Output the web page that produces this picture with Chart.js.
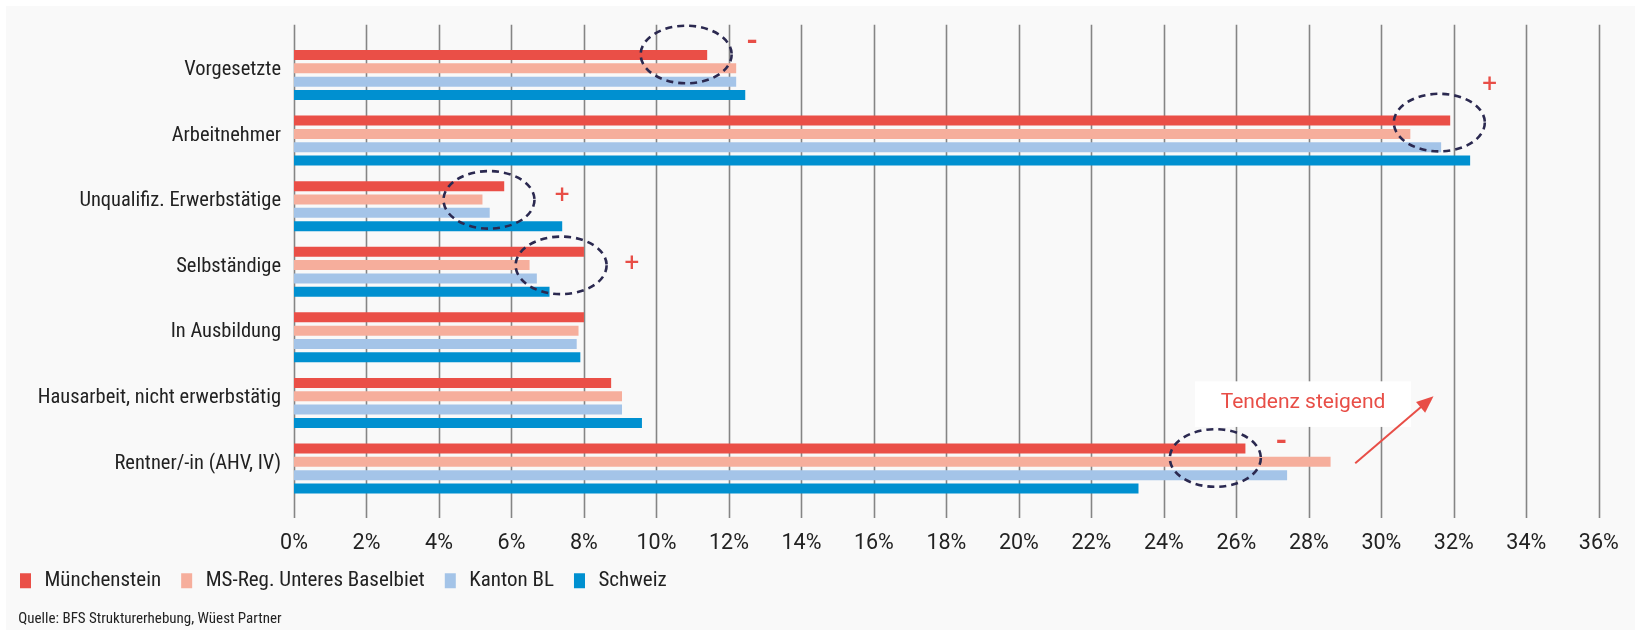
<!DOCTYPE html>
<html>
<head>
<meta charset="utf-8">
<script src="https://cdn.jsdelivr.net/npm/chart.js@4.4.1/dist/chart.umd.min.js"></script>
<style>
html,body{margin:0;padding:0;background:#ffffff;}
#wrap{width:1635px;height:630px;position:relative;}
</style>
</head>
<body>
<div id="wrap"><canvas id="c" width="1635" height="630"></canvas></div>
<script>
// ---- data ----
const categories = ['Vorgesetzte', 'Arbeitnehmer', 'Unqualifiz. Erwerbstätige', 'Selbständige', 'In Ausbildung', 'Hausarbeit, nicht erwerbstätig', 'Rentner/-in (AHV, IV)'];
const seriesNames = ['Münchenstein', 'MS-Reg. Unteres Baselbiet', 'Kanton BL', 'Schweiz'];
const muenchenstein = [11.4, 31.9, 5.8, 8.0, 8.0, 8.75, 26.25];
const msRegion = [12.2, 30.8, 5.2, 6.5, 7.85, 9.05, 28.6];
const kantonBL = [12.2, 31.65, 5.4, 6.7, 7.8, 9.05, 27.4];
const schweiz = [12.45, 32.45, 7.4, 7.05, 7.9, 9.6, 23.3];
const xTickValues = [0, 2, 4, 6, 8, 10, 12, 14, 16, 18, 20, 22, 24, 26, 28, 30, 32, 34, 36];
const sourceText = 'Quelle: BFS Strukturerhebung, Wüest Partner';
const trendText = 'Tendenz steigend';
// annotations (category index + value on x axis)
const circleMarks = [
  {cat: 0, x: 10.82, dy: -20.5},
  {cat: 1, x: 31.60, dy: -18},
  {cat: 2, x: 5.38, dy: -6.3},
  {cat: 3, x: 7.37, dy: -6.4},
  {cat: 6, x: 25.42, dy: -10.5}
];
const signMarks = [
  {cat: 0, x: 12.64, dy: -33.3, t: '-'},
  {cat: 1, x: 32.99, dy: -56, t: '+'},
  {cat: 2, x: 7.40, dy: -10.3, t: '+'},
  {cat: 3, x: 9.32, dy: -8.4, t: '+'},
  {cat: 6, x: 27.24, dy: -26.8, t: '-'}
];

const colors = ['#ea4f47', '#f6ae9c', '#a4c4e8', '#0090d0'];
const COND = '"Roboto Condensed", "Liberation Sans", Arial, sans-serif';
const REG = 'Roboto, "Liberation Sans", Arial, sans-serif';
const BG = '#f9f9f9';

const bgPlugin = {
  id: 'bg',
  beforeDraw(chart) {
    const ctx = chart.ctx;
    ctx.save();
    ctx.fillStyle = '#ffffff';
    ctx.fillRect(0, 0, chart.width, chart.height);
    ctx.fillStyle = BG;
    ctx.fillRect(6, 6, chart.width - 6, chart.height - 6);
    ctx.restore();
  }
};

const gridPlugin = {
  id: 'vgrid',
  beforeDatasetsDraw(chart) {
    const ctx = chart.ctx, xS = chart.scales.x, a = chart.chartArea;
    ctx.save();
    ctx.strokeStyle = '#858585';
    ctx.lineWidth = 1.6;
    xS.ticks.forEach(t => {
      const px = Math.round(xS.getPixelForValue(t.value)) + 0.5;
      ctx.beginPath();
      ctx.moveTo(px, a.top - 17.5);
      ctx.lineTo(px, a.bottom + 16.7);
      ctx.stroke();
    });
    ctx.restore();
  }
};

const annoPlugin = {
  id: 'anno',
  afterDatasetsDraw(chart) {
    const ctx = chart.ctx, xS = chart.scales.x, yS = chart.scales.y;
    const py = (cat, dy) => yS.getPixelForValue(cat) + dy;
    ctx.save();
    // trend box
    const bx1 = xS.getPixelForValue(24.86), bx2 = xS.getPixelForValue(30.82);
    const by1 = py(5, -21.6), by2 = py(5, 24);
    ctx.fillStyle = '#ffffff';
    ctx.fillRect(bx1, by1, bx2 - bx1, by2 - by1);
    ctx.fillStyle = '#e84e47';
    ctx.font = '21px ' + REG;
    ctx.textAlign = 'center';
    ctx.textBaseline = 'middle';
    ctx.fillText(trendText, (bx1 + bx2) / 2, (by1 + by2) / 2 - 1.5);
    // arrow
    const ax1 = xS.getPixelForValue(29.28), ay1 = py(6, -5.2);
    const ax2 = xS.getPixelForValue(31.44), ay2 = py(5, -6.6);
    const ang = Math.atan2(ay2 - ay1, ax2 - ax1);
    ctx.strokeStyle = '#e84e47';
    ctx.lineWidth = 2;
    ctx.beginPath();
    ctx.moveTo(ax1, ay1);
    ctx.lineTo(ax2 - 10 * Math.cos(ang), ay2 - 10 * Math.sin(ang));
    ctx.stroke();
    ctx.beginPath();
    ctx.moveTo(ax2, ay2);
    ctx.lineTo(ax2 - 17 * Math.cos(ang) + 7 * Math.sin(ang), ay2 - 17 * Math.sin(ang) - 7 * Math.cos(ang));
    ctx.lineTo(ax2 - 17 * Math.cos(ang) - 7 * Math.sin(ang), ay2 - 17 * Math.sin(ang) + 7 * Math.cos(ang));
    ctx.closePath();
    ctx.fill();
    // dashed ellipses
    ctx.strokeStyle = '#2b2950';
    ctx.lineWidth = 2.6;
    ctx.setLineDash([7, 5]);
    circleMarks.forEach(c => {
      ctx.beginPath();
      ctx.ellipse(xS.getPixelForValue(c.x), py(c.cat, c.dy), 45.5, 28.8, 0, 0, Math.PI * 2);
      ctx.stroke();
    });
    ctx.setLineDash([]);
    // +/- signs
    ctx.fillStyle = '#e84e47';
    signMarks.forEach(s => {
      ctx.font = (s.t === '+' ? '26px ' : 'bold 30px ') + REG;
      ctx.textAlign = 'center';
      ctx.textBaseline = 'middle';
      ctx.fillText(s.t, xS.getPixelForValue(s.x), py(s.cat, s.dy) + 1);
    });
    ctx.restore();
  },
  afterDraw(chart) {
    const ctx = chart.ctx;
    ctx.save();
    ctx.fillStyle = '#222222';
    ctx.font = '15px ' + COND;
    ctx.textAlign = 'left';
    ctx.textBaseline = 'middle';
    ctx.fillText(sourceText, 18.3, 619.5);
    ctx.restore();
  }
};

const seriesValues = [muenchenstein, msRegion, kantonBL, schweiz];

new Chart(document.getElementById('c'), {
  type: 'bar',
  data: {
    labels: categories,
    datasets: seriesNames.map((n, i) => ({
      label: n,
      data: seriesValues[i],
      backgroundColor: colors[i],
      borderWidth: 0,
      categoryPercentage: 0.8125,
      barPercentage: 0.75
    }))
  },
  options: {
    indexAxis: 'y',
    responsive: false,
    animation: false,
    devicePixelRatio: 1,
    layout: {padding: {left: 0, right: 36.2, top: 42.2, bottom: 28.7}},
    plugins: {
      legend: {
        position: 'bottom',
        align: 'start',
        labels: {
          boxWidth: 17,
          boxHeight: 21,
          padding: 17,
          color: '#222222',
          font: {family: COND, size: 21},
          generateLabels(chart) {
            const items = Chart.defaults.plugins.legend.labels.generateLabels(chart);
            items.forEach(it => { it.lineWidth = 6; it.strokeStyle = BG; });
            return items;
          }
        }
      },
      tooltip: {enabled: false}
    },
    scales: {
      x: {
        type: 'linear',
        min: 0,
        max: 36,
        afterBuildTicks(s) { s.ticks = xTickValues.map(v => ({value: v})); },
        afterFit(s) { s.height = 52; s.paddingLeft = 0; s.paddingRight = 0; },
        grid: {display: false, drawTicks: false},
        border: {display: false},
        ticks: {
          padding: 29.5,
          color: '#222222',
          font: {family: REG, size: 21.5},
          callback: v => v + '%'
        }
      },
      y: {
        type: 'category',
        afterFit(s) { s.width = 294; s.paddingTop = 0; s.paddingBottom = 0; },
        grid: {display: false, drawTicks: false},
        border: {display: false},
        ticks: {
          padding: 13,
          labelOffset: -5,
          color: '#222222',
          font: {family: COND, size: 20.5}
        }
      }
    }
  },
  plugins: [bgPlugin, gridPlugin, annoPlugin]
});
</script>
</body>
</html>
